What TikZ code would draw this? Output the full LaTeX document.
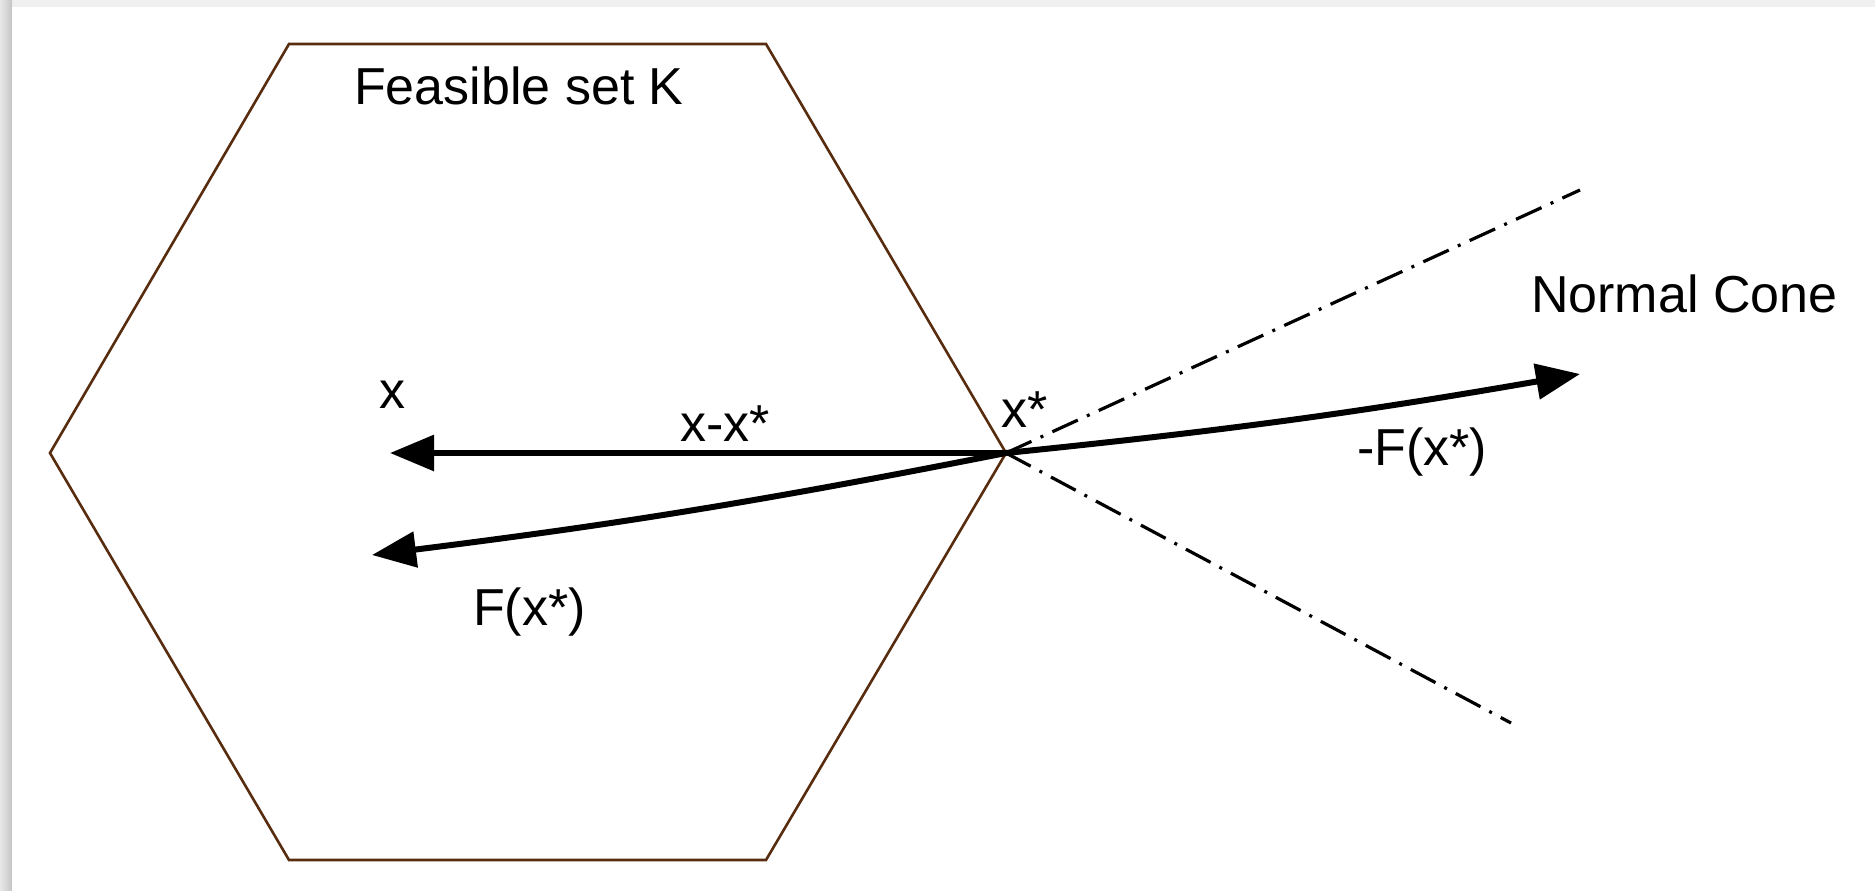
\documentclass[tikz,border=0pt]{standalone}
\usepackage{fontspec}
\setmainfont{Liberation Sans}
\usetikzlibrary{arrows.meta}
\definecolor{hexbrown}{RGB}{88,44,14}
\begin{document}
\begin{tikzpicture}[x=1pt,y=-1pt,
  lbl/.style={anchor=base west, inner sep=0pt, font=\fontsize{52}{62}\selectfont},
  vec/.style={line width=6pt, -{Triangle[length=44pt,width=35pt]}},
  conebound/.style={line width=3.2pt, dash pattern=on 28pt off 10pt on 3pt off 10pt},
  hexside/.style={draw=hexbrown, line width=2.6pt, line join=miter}]
\useasboundingbox (0,0) rectangle (1875,891);
\fill[gray!12] (0,0) rectangle (1875,891);
\shade[left color=gray!18, right color=gray!45] (0,0) rectangle (12,891);
\fill[white] (12,7) rectangle (1875,891);
% hexagon (feasible set)
\coordinate (tl) at (289,44);
\coordinate (tr) at (766,44);
\coordinate (xs) at (1006,453);
\coordinate (br) at (766,860);
\coordinate (bl) at (289,860);
\coordinate (lv) at (50,453);
\draw[hexside] (tl) -- (tr) -- (xs) -- (br) -- (bl) -- (lv) -- cycle;
% normal cone boundaries
\coordinate (cu) at (1580,190);
\coordinate (cl) at (1511,723);
\draw[conebound] (xs) -- (cu);
\draw[conebound] (xs) -- (cl);
% vectors
\coordinate (xt) at (390,453);
\coordinate (ft) at (372,555);
\coordinate (mft) at (1580,374);
\draw[vec] (xs) -- (xt);
\draw[vec] (xs) to[bend left=2] (ft);
\draw[vec] (xs) to[bend right=2] (mft);
% labels
\node[lbl] (lK) at (354,104) {Feasible set K};
\node[lbl] (lx) at (379,408) {x};
\node[lbl] (lxx) at (680,441) {x-x*};
\node[lbl] (lxs) at (1001,427) {x*};
\node[lbl] (lmF) at (1357,465) {-F(x*)};
\node[lbl] (lF) at (473,625) {F(x*)};
\node[lbl] (lNC) at (1531,312) {Normal Cone};
\end{tikzpicture}
\end{document}
